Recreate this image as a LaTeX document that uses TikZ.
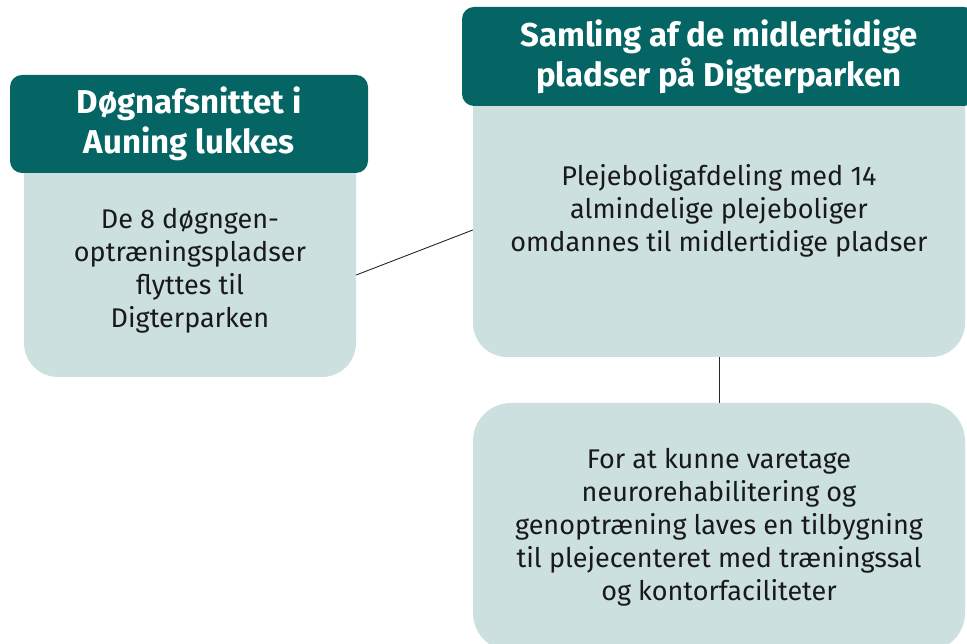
\documentclass[tikz,border=0pt]{standalone}
\usepackage{fontspec}
\setmainfont{Fira Sans}
\usetikzlibrary{positioning}
\definecolor{darkteal}{RGB}{4,101,100}
\definecolor{paleteal}{RGB}{204,224,223}
\tikzset{
    headbox/.style={
    rectangle,rounded corners=12pt,fill=darkteal,text=white,align=center,inner sep=0pt,
    font=\fontsize{33}{40}\selectfont\bfseries
    },
    panel/.style={
    rectangle,rounded corners=34pt,fill=paleteal,inner sep=0pt
    },
    paneltext/.style={
    text=black!90,align=center,inner sep=0pt,font=\fontsize{27}{33}\selectfont
    },
    link/.style={
    draw=black!85,line width=0.9pt
    },
}
\begin{document}
\begin{tikzpicture}[x=1pt,y=1pt]
   \useasboundingbox (0,0) rectangle (967,644);
   % left column
   \node[panel,minimum width=332pt,minimum height=250pt] (auningbody) at (190,392) {};
   \node[paneltext] (auningtext) at (190,373)
     {De 8 døgngen-\\optræningspladser\\flyttes til\\Digterparken};
   \node[headbox,minimum width=358pt,minimum height=98pt] (auninghead) at (189,520)
     {Døgnafsnittet i\\Auning lukkes};
   % right column
   \node[panel,minimum width=492pt,minimum height=300pt] (samlingbody) at (719,437) {};
   \node[paneltext] (samlingtext) at (719,433)
     {Plejeboligafdeling med 14\\almindelige plejeboliger\\omdannes til midlertidige pladser};
   \node[headbox,minimum width=514pt,minimum height=99pt] (samlinghead) at (719,587.5)
     {Samling af de midlertidige\\pladser på Digterparken};
   \node[panel,rounded corners=38pt,minimum width=492pt,minimum height=248pt] (tilbygning) at (719,117) {};
   \node[paneltext] (tilbygningtext) at (719,117)
     {For at kunne varetage\\neurorehabilitering og\\genoptræning laves en tilbygning\\til plejecenteret med træningssal\\og kontorfaciliteter};

  \path[link]
    ([yshift=-23pt]auningbody.east) edge ([yshift=-23pt]samlingbody.west)
    (samlingbody.south) edge (tilbygning.north);
\end{tikzpicture}
\end{document}
